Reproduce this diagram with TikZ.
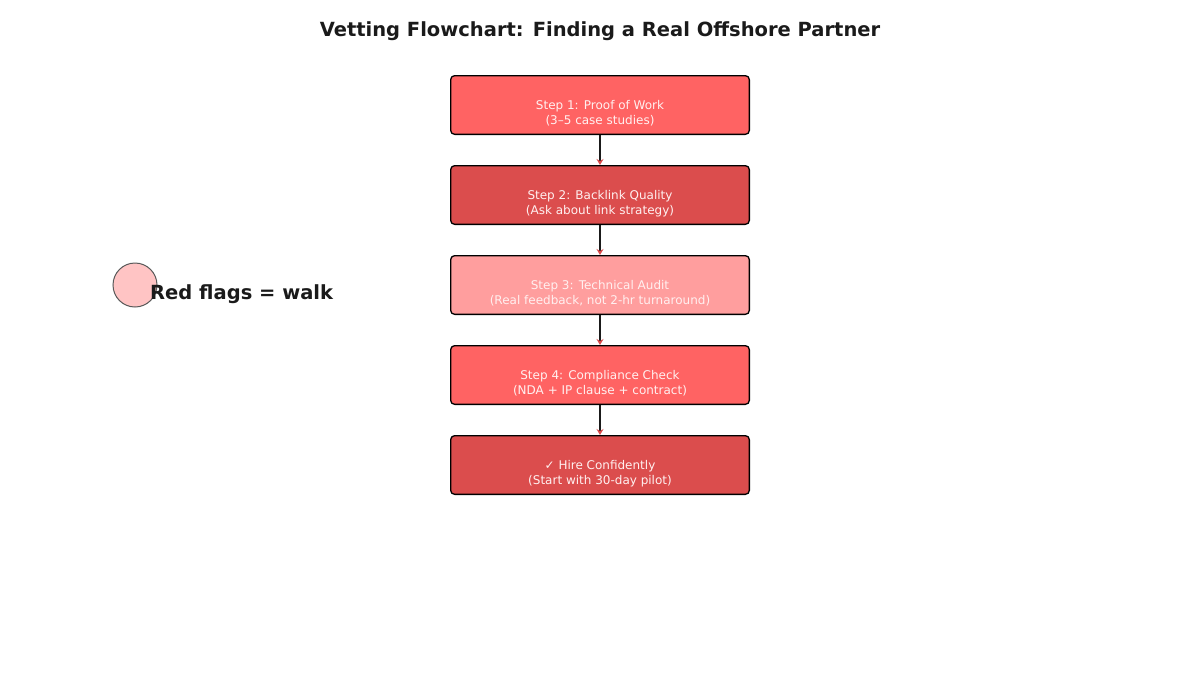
\documentclass[tikz,border=0pt]{standalone}
\usepackage{fontspec}
\setmainfont{DejaVu Sans}
\usetikzlibrary{positioning,arrows.meta}
\definecolor{stepred}{HTML}{FF6363}
\definecolor{stepdark}{HTML}{DB4D4D}
\definecolor{steplight}{HTML}{FF9E9E}
\definecolor{flagpink}{HTML}{FFC4C4}
\definecolor{inkgray}{HTML}{1A1A1A}
\tikzset{
  stepbox/.style={draw=black, line width=1.3pt, rounded corners=4pt,
    minimum width=298.7pt, minimum height=58.7pt, align=center,
    text=white!94!red, font=\fontsize{12}{15}\selectfont},
  link/.style={draw=inkgray, line width=1.3pt,
    -{Stealth[length=6pt,width=7pt,color=stepdark]}}
}
\begin{document}
\begin{tikzpicture}
    \useasboundingbox (0,0) rectangle (1200pt,-675pt);
    \node[text=inkgray, font=\fontsize{19.5}{23}\selectfont\bfseries] (title) at (600pt,-31pt) {Vetting Flowchart: Finding a Real Offshore Partner};

    \node[stepbox, fill=stepred] (s1) at (600pt,-105pt) {\strut\\Step 1: Proof of Work\\(3–5 case studies)};
    \node[stepbox, fill=stepdark, below=30pt of s1] (s2) {\strut\\Step 2: Backlink Quality\\(Ask about link strategy)};
    \node[stepbox, fill=steplight, below=30pt of s2] (s3) {\strut\\Step 3: Technical Audit\\(Real feedback, not 2-hr turnaround)};
    \node[stepbox, fill=stepred, below=30pt of s3] (s4) {\strut\\Step 4: Compliance Check\\(NDA + IP clause + contract)};
    \node[stepbox, fill=stepdark, below=30pt of s4] (s5) {\strut\\✓ Hire Confidently\\(Start with 30-day pilot)};

    \draw[link] (s1) -- (s2);
    \draw[link] (s2) -- (s3);
    \draw[link] (s3) -- (s4);
    \draw[link] (s4) -- (s5);

    \node[draw=black!65, fill=flagpink, circle, line width=1pt, minimum size=44pt] (flag) at (135pt,-285pt) {};
    \node[text=inkgray, font=\fontsize{19.5}{23}\selectfont\bfseries, anchor=west, inner sep=0pt] (walk) at (150pt,-294pt) {Red flags = walk};
\end{tikzpicture}
\end{document}
